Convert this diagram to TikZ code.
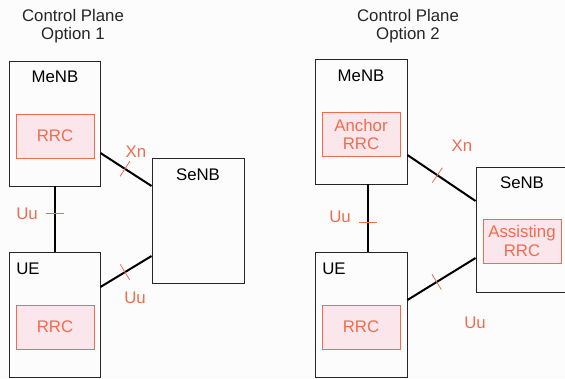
\documentclass[tikz,border=0pt]{standalone}
\usepackage{fontspec}
\setmainfont{Liberation Sans}
\usetikzlibrary{decorations.markings}
\definecolor{rrcred}{RGB}{240,108,78}
\definecolor{rrcfill}{RGB}{251,230,235}
\definecolor{bgpaper}{RGB}{252,252,252}
\begin{document}
\begin{tikzpicture}[x=1pt, y=-1pt, every node/.style={font=\fontsize{16.8}{18.5}\selectfont},
  box/.style={draw=black!85, line width=0.9pt, minimum width=91pt, minimum height=125pt, inner sep=0pt},
  rrcbox/.style={draw=rrcred, fill=rrcfill, line width=0.8pt, text=rrcred, minimum width=78pt, minimum height=44pt, inner sep=0pt, align=center},
  lbl/.style={text=rrcred},
  link/.style={line width=2pt, black},
  tick at/.style={postaction={decorate}, decoration={markings, mark=at position #1 with {\draw[rrcred, line width=0.8pt] (0pt,-9pt) -- (0pt,9pt);}}}]
\fill[bgpaper] (0,0) rectangle (565,378);
\useasboundingbox (0,0) rectangle (565,378);
% Titles
\foreach \x/\n in {73/1, 408/2} \node[align=center, text=black!85] (title\n) at (\x,26) {Control Plane\\Option \n};
% Option 1
\node[box] (menbA) at (54.5,123.5) {};
\node[box, minimum width=92pt] (senbA) at (198,220.5) {};
\node[box] (ueA) at (54.5,314.5) {};
\node (menbAname) at (55,77) {MeNB};
\node (senbAname) at (198,175) {SeNB};
\node (ueAname) at (28,269) {UE};
\node[rrcbox] (rrcA) at (55,136) {RRC};
\node[rrcbox] (uerrcA) at (55,327) {RRC};
\draw[link, tick at=.42] (menbA.south) -- (ueA.north);
\draw[link, tick at=.48] ([yshift=-29.5pt]menbA.east) -- ([yshift=34.5pt]senbA.west);
\draw[link, tick at=.48] ([yshift=27.5pt]ueA.east) -- ([yshift=-35.5pt]senbA.west);
\node[lbl] (uuA) at (27,214) {Uu};
\node[lbl] (xnA) at (136,152) {Xn};
\node[lbl] (uuAb) at (135,298) {Uu};
% Option 2
\node[box, minimum width=92pt] (menbB) at (361,121.5) {};
\node[box, minimum width=94pt] (senbB) at (523,229.5) {};
\node[box, minimum width=92pt] (ueB) at (361,314.5) {};
\node (menbBname) at (361,76) {MeNB};
\node (senbBname) at (522,183) {SeNB};
\node (ueBname) at (334,269) {UE};
\node[rrcbox] (rrcB) at (361,134.5) {Anchor\\RRC};
\node[rrcbox] (uerrcB) at (361,327) {RRC};
\node[rrcbox] (asrrcB) at (522,241) {Assisting\\RRC};
\draw[link, tick at=.56] ([xshift=7pt]menbB.south) -- ([xshift=7pt]ueB.north);
\draw[link, tick at=.44] ([yshift=-33.5pt]menbB.east) -- ([yshift=28.5pt]senbB.west);
\draw[link, tick at=.43] ([yshift=14.5pt]ueB.east) -- ([yshift=-28.5pt]senbB.west);
\node[lbl] (uuB) at (340,217) {Uu};
\node[lbl] (xnB) at (462,146) {Xn};
\node[lbl] (uuBb) at (475,323) {Uu};
\end{tikzpicture}
\end{document}
